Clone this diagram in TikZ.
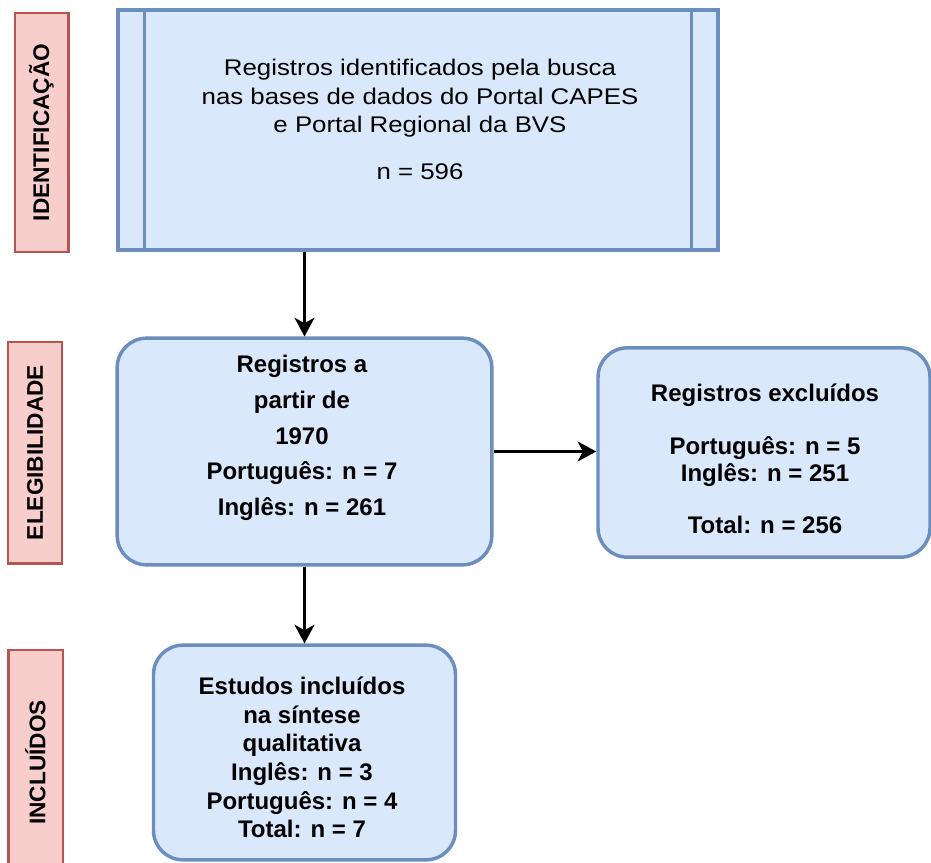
\documentclass[tikz,border=0pt]{standalone}
\usepackage{fontspec}
\setmainfont{Liberation Sans}
\newfontfamily\widefont{Liberation Sans}[FakeStretch=1.14]
\usepackage{tikz}
\usetikzlibrary{arrows.meta}

\definecolor{stageFill}{HTML}{F8CECC}
\definecolor{stageLine}{HTML}{B85450}
\definecolor{boxFill}{HTML}{DAE8FC}
\definecolor{boxLine}{HTML}{6C8EBF}

\begin{document}
\begin{tikzpicture}[
    x=0.75pt, y=-0.75pt,
    stage/.style={draw=stageLine, fill=stageFill, line width=2pt, rotate=90,
        inner sep=0pt, font=\bfseries\fontsize{17}{20}\selectfont},
    flowbox/.style={draw=boxLine, fill=boxFill, line width=2.6pt, inner sep=0pt},
    roundbox/.style={flowbox, rounded corners=22pt},
    boxtext/.style={anchor=north, inner sep=0pt, align=center},
    arr/.style={-{Stealth[length=14pt, width=15pt, inset=4pt]}, line width=1.8pt}
]

\path[fill=white, use as bounding box] (0,0) rectangle (931,863);

% Stage labels (left column)
\node[stage, minimum width=179pt, minimum height=40pt] (lblIdent) at (41.5,132.5) {IDENTIFICAÇÃO};
\node[stage, minimum width=166pt, minimum height=40.5pt] (lblEleg) at (35,452.5) {ELEGIBILIDADE};
\node[stage, minimum width=169pt, minimum height=41pt] (lblIncl) at (35.5,762.5) {INCLUÍDOS};

% Identification (process box)
\node[flowbox, minimum width=450pt, minimum height=180pt] (topBox) at (418,130) {};
\draw[boxLine, line width=2.6pt] ([xshift=21pt]topBox.north west) -- ([xshift=21pt]topBox.south west);
\draw[boxLine, line width=2.6pt] ([xshift=-21pt]topBox.north east) -- ([xshift=-21pt]topBox.south east);
\node[boxtext, font=\widefont\fontsize{17}{21.4}\selectfont] (topTxt) at (420,59)
    {Registros identificados pela busca\\nas bases de dados do Portal CAPES\\e Portal Regional da BVS\\[13.9pt]n = 596};

% Eligibility
\node[roundbox, minimum width=281pt, minimum height=170pt] (midBox) at (304.5,451.5) {};
\node[boxtext, font=\bfseries\fontsize{18}{26.8}\selectfont] (midTxt) at (302,355)
    {Registros a\\partir de\\1970\\Português: n = 7\\Inglês: n = 261};

% Excluded
\node[roundbox, minimum width=249pt, minimum height=157pt] (rightBox) at (764,452.5) {};
\node[boxtext, font=\bfseries\fontsize{18}{20.25}\selectfont] (rightTxt) at (765,384)
    {Registros excluídos\\[19pt]Português: n = 5\\Inglês: n = 251\\[19pt]Total: n = 256};

% Included
\node[roundbox, minimum width=226.5pt, minimum height=161pt] (botBox) at (304.5,752.5) {};
\node[boxtext, font=\bfseries\fontsize{18}{21.4}\selectfont] (botTxt) at (302,677)
    {Estudos incluídos\\na síntese\\qualitativa\\Inglês: n = 3\\Português: n = 4\\Total: n = 7};

% Connectors
\draw[arr] (topBox.south -| midBox.north) -- (midBox.north);
\draw[arr] (midBox.east) -- (rightBox.west |- midBox.east);
\draw[arr] (midBox.south) -- (botBox.north);

\end{tikzpicture}
\end{document}
